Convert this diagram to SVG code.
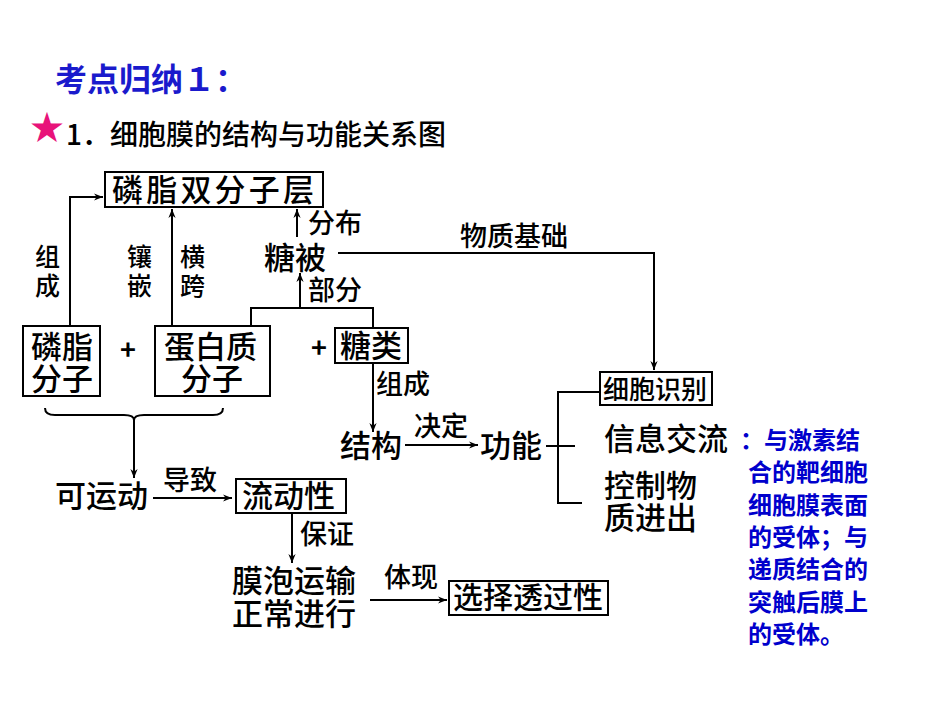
<svg xmlns="http://www.w3.org/2000/svg" width="950" height="713" viewBox="0 0 950 713">
<style>
text{font-family:"Noto Sans CJK SC","Liberation Sans",sans-serif;fill:#000;font-weight:500}
.t{font-size:31px}
.s{font-size:27px}
.v{font-size:25px}
.b{font-size:24px;fill:#0000cc;font-weight:bold}
rect{fill:#fff;stroke:#000;stroke-width:2}
.c path{stroke:#000;stroke-width:2;fill:none}
</style>
<defs><marker id="a" viewBox="0 0 10 10" refX="10" refY="5" markerWidth="9" markerHeight="9" orient="auto" markerUnits="userSpaceOnUse"><path d="M0,1 L10,5 L0,9 L3,5 z" fill="#000"/></marker></defs>
<rect width="950" height="713" style="stroke:none"/>
<text x="55" y="91" style="font-size:32px;fill:#1a1acc;font-weight:bold">考点归纳１：</text>
<text x="30" y="140" style="font-size:34px;fill:#e8137a">★</text>
<text x="66" y="145" style="font-size:28px">1．细胞膜的结构与功能关系图</text>
<g class="c">
<path d="M70,326 V197 H103" marker-end="url(#a)"/>
<path d="M172,326 V209" marker-end="url(#a)"/>
<path d="M297,237 V209" marker-end="url(#a)"/>
<path d="M338,253 H654 V370" marker-end="url(#a)"/>
<path d="M300,308 V273" marker-end="url(#a)"/>
<path d="M251,326 V308 H373 V328"/>
<path d="M373,363 V432" marker-end="url(#a)"/>
<path d="M405,445 H478" marker-end="url(#a)"/>
<path d="M546,446 H575 M600,392 H558 V503 H582"/>
<path d="M45,408 Q45,415 55,415 H124 Q134,415 134,420 Q134,415 144,415 H213 Q223,415 223,408"/>
<path d="M134,420 V478" marker-end="url(#a)"/>
<path d="M153,498 H232" marker-end="url(#a)"/>
<path d="M292,513 V563" marker-end="url(#a)"/>
<path d="M370,600 H447" marker-end="url(#a)"/>
</g>
<g id="n1"><rect x="105" y="172" width="218" height="35"/><text class="t" x="112" y="201" textLength="202">磷脂双分子层</text></g>
<g id="n2"><rect x="23" y="326" width="77" height="70"/><text class="t" x="31" y="358">磷脂</text><text class="t" x="31" y="390">分子</text></g>
<g id="n3"><rect x="155" y="326" width="115" height="70"/><text class="t" x="164" y="358">蛋白质</text><text class="t" x="181" y="390">分子</text></g>
<g id="n4"><rect x="335" y="328" width="73" height="35"/><text class="t" x="340" y="357">糖类</text></g>
<g id="n5"><rect x="600" y="372" width="112" height="33"/><text x="603" y="399" style="font-size:26px">细胞识别</text></g>
<g id="n6"><rect x="236" y="479" width="110" height="34"/><text class="t" x="242" y="507">流动性</text></g>
<g id="n7"><rect x="449" y="581" width="159" height="34"/><text x="453" y="608" style="font-size:30px">选择透过性</text></g>
<g id="labels">
<text class="v" x="35" y="266">组</text><text class="v" x="35" y="295">成</text>
<text class="v" x="127" y="266">镶</text><text class="v" x="127" y="295">嵌</text>
<text class="v" x="180" y="266">横</text><text class="v" x="180" y="295">跨</text>
<text class="s" x="308" y="233">分布</text>
<text class="t" x="264" y="269">糖被</text>
<text class="s" x="460" y="246">物质基础</text>
<text class="s" x="308" y="300">部分</text>
<text class="s" x="120" y="360" style="font-weight:bold">+</text><text class="s" x="311" y="358" style="font-weight:bold">+</text>
<text class="s" x="376" y="394">组成</text>
<text class="t" x="340" y="457">结构</text>
<text class="s" x="414" y="436">决定</text>
<text class="t" x="480" y="457">功能</text>
<text class="t" x="604" y="450">信息交流</text>
<text class="t" x="604" y="497">控制物</text><text class="t" x="604" y="529">质进出</text>
<text class="t" x="55" y="507">可运动</text>
<text class="s" x="163" y="490">导致</text>
<text class="s" x="300" y="544">保证</text>
<text class="t" x="232" y="592">膜泡运输</text><text class="t" x="232" y="625">正常进行</text>
<text class="s" x="384" y="587">体现</text>
</g>
<g id="note">
<text class="b" x="740" y="449">：与激素结</text>
<text class="b" x="748" y="481">合的靶细胞</text>
<text class="b" x="748" y="514">细胞膜表面</text>
<text class="b" x="748" y="546">的受体；与</text>
<text class="b" x="748" y="578">递质结合的</text>
<text class="b" x="748" y="611">突触后膜上</text>
<text class="b" x="748" y="643">的受体。</text>
</g>
</svg>
